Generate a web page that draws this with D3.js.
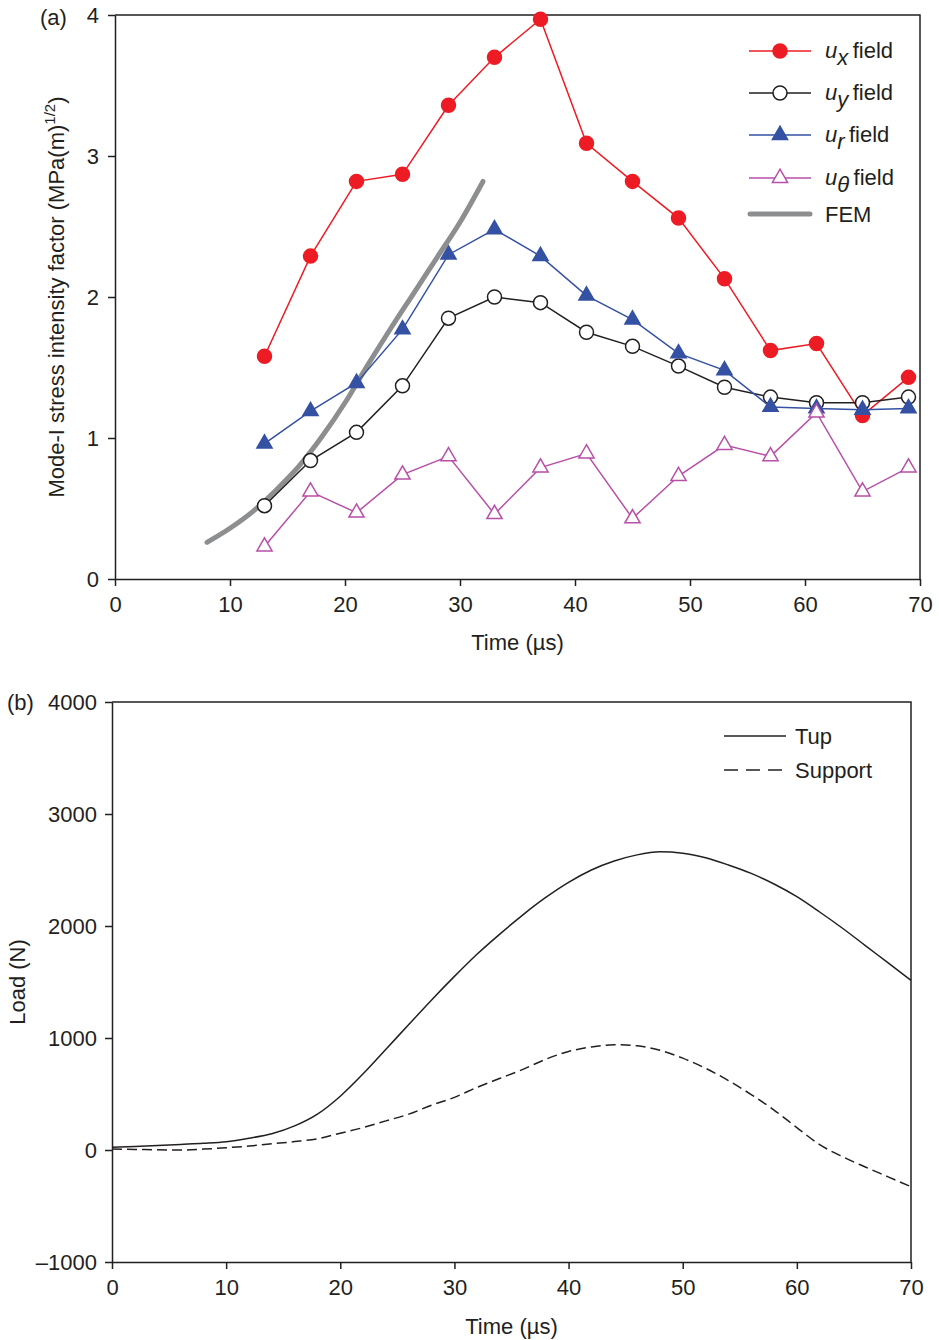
<!DOCTYPE html>
<html>
<head>
<meta charset="utf-8">
<script src="https://cdn.jsdelivr.net/npm/d3@7"></script>
<style>
  body { margin: 0; background: #fff; }
  svg { display: block; font-family: "Liberation Sans", Arial, sans-serif; }
  .axis text { font-size: 22px; fill: #231f20; }
  .axis path, .axis line { stroke: #231f20; stroke-width: 1.5; }
</style>
</head>
<body>
<svg id="chart" width="939" height="1340"></svg>
<script>
// panel (a): stress intensity factor
var times = [13, 17, 21, 25, 29, 33, 37, 41, 45, 49, 53, 57, 61, 65, 69];
var uxField = [1.58, 2.29, 2.82, 2.87, 3.36, 3.70, 3.97, 3.09, 2.82, 2.56, 2.13, 1.62, 1.67, 1.16, 1.43];
var uyField = [0.52, 0.84, 1.04, 1.37, 1.85, 2.00, 1.96, 1.75, 1.65, 1.51, 1.36, 1.29, 1.25, 1.25, 1.29];
var urField = [0.96, 1.19, 1.39, 1.77, 2.30, 2.48, 2.29, 2.01, 1.84, 1.60, 1.48, 1.22, 1.21, 1.20, 1.21];
var uthField = [0.23, 0.62, 0.47, 0.74, 0.87, 0.46, 0.79, 0.89, 0.43, 0.73, 0.95, 0.87, 1.18, 0.62, 0.79];
var femTime = [8, 10, 12, 14, 16, 18, 20, 22, 24, 26, 28, 30, 32];
var femK = [0.26, 0.36, 0.48, 0.63, 0.80, 1.01, 1.25, 1.52, 1.78, 2.03, 2.28, 2.53, 2.82];

// panel (b): load
var loadTime = [0, 2, 4, 6, 8, 10, 12, 14, 16, 18, 20, 22, 24, 26, 28, 30, 32, 34, 36, 38, 40, 42, 44, 46, 48, 50, 52, 54, 56, 58, 60, 62, 64, 66, 68, 70];
var tupLoad = [25, 32, 40, 50, 60, 74, 105, 145, 215, 320, 480, 680, 900, 1120, 1340, 1550, 1750, 1930, 2100, 2255, 2390, 2500, 2580, 2635, 2662, 2650, 2610, 2545, 2470, 2375, 2262, 2125, 1980, 1825, 1670, 1515];
var supportLoad = [8, 5, 2, 0, 8, 20, 35, 55, 75, 100, 150, 200, 260, 320, 400, 470, 560, 640, 720, 810, 880, 920, 940, 930, 890, 820, 730, 620, 495, 357, 200, 48, -60, -152, -240, -328];

var xTicks = [0, 10, 20, 30, 40, 50, 60, 70];
var kTicks = [0, 1, 2, 3, 4];
var loadTicks = [-1000, 0, 1000, 2000, 3000, 4000];

var ink = "#231f20";
var svg = d3.select("#chart");

// ---------- panel (a) ----------
var a = { left: 115, right: 920, top: 15, bottom: 579 };
var xa = d3.scaleLinear().domain([0, 70]).range([a.left, a.right]);
var ya = d3.scaleLinear().domain([0, 4]).range([a.bottom, a.top]);

svg.append("g").attr("class", "axis")
  .attr("transform", `translate(0,${a.bottom})`)
  .call(d3.axisBottom(xa).tickValues(xTicks).tickSize(7).tickSizeOuter(0).tickPadding(10));
svg.append("g").attr("class", "axis")
  .attr("transform", `translate(${a.left},0)`)
  .call(d3.axisLeft(ya).tickValues(kTicks).tickFormat(d3.format("d")).tickSize(7).tickSizeOuter(0).tickPadding(9));
svg.append("path")
  .attr("d", `M${a.left},${a.top}H${a.right}V${a.bottom}`)
  .attr("fill", "none").attr("stroke", ink).attr("stroke-width", 1.5);

svg.append("text").text("(a)")
  .attr("x", 40).attr("y", 25).attr("font-size", 22).attr("fill", ink);
svg.append("text").text("Time (\u00b5s)")
  .attr("x", (a.left + a.right) / 2).attr("y", 650)
  .attr("text-anchor", "middle").attr("font-size", 22).attr("fill", ink);
var yt = svg.append("text")
  .attr("transform", `translate(64,${(a.top + a.bottom) / 2}) rotate(-90)`)
  .attr("text-anchor", "middle").attr("font-size", 22).attr("fill", ink);
yt.append("tspan").text("Mode-I stress intensity factor (MPa(m)");
yt.append("tspan").text("1/2").attr("font-size", 15).attr("dy", -9);
yt.append("tspan").text(")").attr("dy", 9);

var line = d3.line().x(d => xa(d[0])).y(d => ya(d[1]));

// FEM curve
svg.append("path")
  .datum(d3.zip(femTime, femK))
  .attr("fill", "none").attr("stroke", "#8d8e90").attr("stroke-width", 5)
  .attr("stroke-linecap", "round")
  .attr("d", d3.line().x(d => xa(d[0])).y(d => ya(d[1])).curve(d3.curveMonotoneX));

var triangle = d3.symbol().type(d3.symbolTriangle).size(100);
var series = [
  { vals: uxField, color: "#ed1c24", marker: "circle", fill: "#ed1c24", sub: "x" },
  { vals: uyField, color: ink, marker: "circle", fill: "#fff", sub: "y" },
  { vals: urField, color: "#3451a3", marker: "tri", fill: "#3451a3", sub: "r" },
  { vals: uthField, color: "#b84fa8", marker: "tri", fill: "#fff", sub: "\u03b8" }
];

function drawMarker(g, s, px, py) {
  if (s.marker === "circle") {
    g.append("circle").attr("cx", px).attr("cy", py).attr("r", 7)
      .attr("fill", s.fill).attr("stroke", s.color).attr("stroke-width", 1.5);
  } else {
    g.append("path").attr("d", triangle())
      .attr("transform", `translate(${px},${py})`)
      .attr("fill", s.fill).attr("stroke", s.color).attr("stroke-width", 1.5);
  }
}

series.forEach(s => {
  var pts = d3.zip(times, s.vals);
  svg.append("path").datum(pts)
    .attr("fill", "none").attr("stroke", s.color).attr("stroke-width", 1.5)
    .attr("d", line);
  var g = svg.append("g");
  pts.forEach(p => drawMarker(g, s, xa(p[0]), ya(p[1])));
});

// legend (a)
var legA = svg.append("g");
var rowsA = [51, 93, 135, 178];
series.forEach((s, i) => {
  var y = rowsA[i];
  legA.append("line").attr("x1", 749).attr("x2", 811).attr("y1", y).attr("y2", y)
    .attr("stroke", s.color).attr("stroke-width", 1.5);
  drawMarker(legA, s, 780, y);
  var t = legA.append("text").attr("x", 825).attr("y", y + 7)
    .attr("font-size", 22).attr("fill", ink);
  t.append("tspan").text("u").attr("font-style", "italic");
  t.append("tspan").text(s.sub).attr("font-style", "italic").attr("dy", 7);
  t.append("tspan").text("\u2009field").attr("dy", -7);
});
legA.append("line").attr("x1", 750).attr("x2", 810).attr("y1", 214).attr("y2", 214)
  .attr("stroke", "#8d8e90").attr("stroke-width", 5).attr("stroke-linecap", "round");
legA.append("text").text("FEM").attr("x", 825).attr("y", 222)
  .attr("font-size", 22).attr("fill", ink);

// ---------- panel (b) ----------
var b = { left: 112, right: 911, top: 702, bottom: 1262 };
var xb = d3.scaleLinear().domain([0, 70]).range([b.left, b.right]);
var yb = d3.scaleLinear().domain([-1000, 4000]).range([b.bottom, b.top]);

svg.append("g").attr("class", "axis")
  .attr("transform", `translate(0,${b.bottom})`)
  .call(d3.axisBottom(xb).tickValues(xTicks).tickSize(7).tickSizeOuter(0).tickPadding(10));
svg.append("g").attr("class", "axis")
  .attr("transform", `translate(${b.left},0)`)
  .call(d3.axisLeft(yb).tickValues(loadTicks).tickSize(7).tickSizeOuter(0).tickPadding(8)
    .tickFormat(d => d < 0 ? "\u2013" + Math.abs(d) : d));
svg.append("path")
  .attr("d", `M${b.left},${b.top}H${b.right}V${b.bottom}`)
  .attr("fill", "none").attr("stroke", ink).attr("stroke-width", 1.5);

svg.append("text").text("(b)")
  .attr("x", 7).attr("y", 710).attr("font-size", 22).attr("fill", ink);
svg.append("text").text("Time (\u00b5s)")
  .attr("x", (b.left + b.right) / 2).attr("y", 1334)
  .attr("text-anchor", "middle").attr("font-size", 22).attr("fill", ink);
svg.append("text").text("Load (N)")
  .attr("transform", `translate(25,${(b.top + b.bottom) / 2}) rotate(-90)`)
  .attr("text-anchor", "middle").attr("font-size", 22).attr("fill", ink);

var lineB = d3.line().x(d => xb(d[0])).y(d => yb(d[1])).curve(d3.curveMonotoneX);
svg.append("path").datum(d3.zip(loadTime, tupLoad))
  .attr("fill", "none").attr("stroke", ink).attr("stroke-width", 1.5).attr("d", lineB);
svg.append("path").datum(d3.zip(loadTime, supportLoad))
  .attr("fill", "none").attr("stroke", ink).attr("stroke-width", 1.5)
  .attr("stroke-dasharray", "10,5").attr("d", lineB);

// legend (b)
var legB = svg.append("g");
legB.append("line").attr("x1", 724).attr("x2", 786).attr("y1", 736).attr("y2", 736)
  .attr("stroke", ink).attr("stroke-width", 1.5);
legB.append("line").attr("x1", 724).attr("x2", 786).attr("y1", 770).attr("y2", 770)
  .attr("stroke", ink).attr("stroke-width", 1.5).attr("stroke-dasharray", "14,8");
legB.append("text").text("Tup").attr("x", 795).attr("y", 744).attr("font-size", 22).attr("fill", ink);
legB.append("text").text("Support").attr("x", 795).attr("y", 778).attr("font-size", 22).attr("fill", ink);
</script>
</body>
</html>
